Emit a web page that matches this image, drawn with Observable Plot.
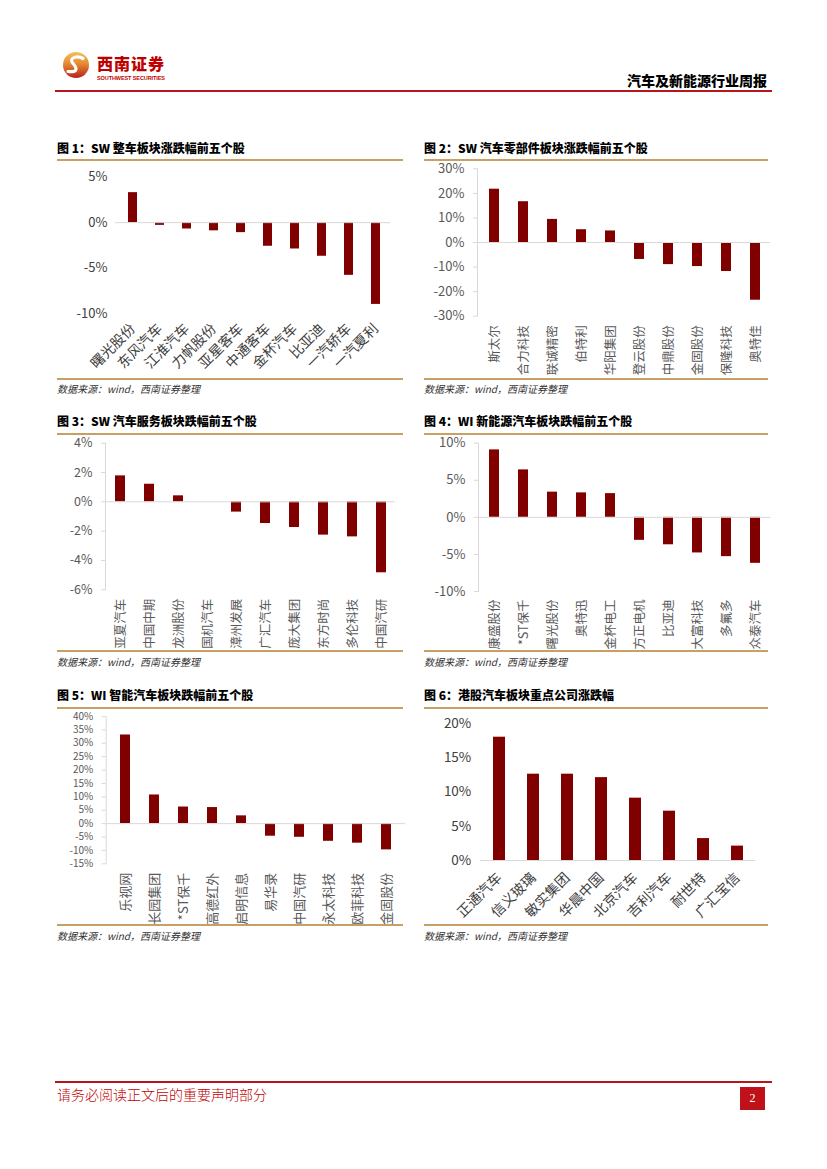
<!DOCTYPE html>
<html><head><meta charset="utf-8">
<script src="https://cdn.jsdelivr.net/npm/d3@7"></script>
<script src="https://cdn.jsdelivr.net/npm/@observablehq/plot@0.6"></script>
<style>
body{margin:0;background:#fff;font-family:"Noto Sans CJK SC",sans-serif;}
#page{position:relative;width:827px;height:1169px;overflow:hidden;background:#fff}
.abs{position:absolute}
.title{font-size:12px;font-weight:900;color:#000;white-space:nowrap;line-height:1}
.src{font-size:10px;font-style:italic;color:#333;white-space:nowrap;line-height:1}
.gold{height:1.6px;background:#C9A063}
</style></head>
<body><div id="page"></div>
<script>
// ---- data ----
const titles = [
  "图 1：SW 整车板块涨跌幅前五个股",
  "图 2：SW 汽车零部件板块涨跌幅前五个股",
  "图 3：SW 汽车服务板块跌幅前五个股",
  "图 4：WI 新能源汽车板块跌幅前五个股",
  "图 5：WI 智能汽车板块跌幅前五个股",
  "图 6：港股汽车板块重点公司涨跌幅"
];
const sourceText = "数据来源：wind，西南证券整理";

const c1Names = ["曙光股份","东风汽车","江淮汽车","力帆股份","亚星客车","中通客车","金杯汽车","比亚迪","一汽轿车","一汽夏利"];
const c1Values = [3.3,-0.3,-0.7,-0.9,-1.1,-2.6,-2.9,-3.7,-5.8,-9.0];
const c1Ticks = [5,0,-5,-10];

const c2Names = ["斯太尔","合力科技","联诚精密","伯特利","华阳集团","登云股份","中鼎股份","金固股份","保隆科技","奥特佳"];
const c2Values = [21.7,16.6,9.4,5.2,4.7,-6.9,-9.0,-9.8,-11.8,-23.5];
const c2Ticks = [30,20,10,0,-10,-20,-30];

const c3Names = ["亚夏汽车","中国中期","龙洲股份","国机汽车","漳州发展","广汇汽车","庞大集团","东方时尚","多伦科技","中国汽研"];
const c3Values = [1.77,1.2,0.41,0,-0.7,-1.48,-1.75,-2.27,-2.39,-4.84];
const c3Ticks = [4,2,0,-2,-4,-6];

const c4Names = ["康盛股份","*ST保千","曙光股份","奥特迅","金杯电工","方正电机","比亚迪","大富科技","多氟多","众泰汽车"];
const c4Values = [9.1,6.4,3.4,3.3,3.2,-3.1,-3.7,-4.8,-5.3,-6.2];
const c4Ticks = [10,5,0,-5,-10];

const c5Names = ["乐视网","长园集团","*ST保千","高德红外","启明信息","易华录","中国汽研","永太科技","欧菲科技","金固股份"];
const c5Values = [33.1,10.7,6.2,6.0,2.9,-4.7,-5.1,-6.6,-7.3,-9.8];
const c5Ticks = [40,35,30,25,20,15,10,5,0,-5,-10,-15];

const c6Names = ["正通汽车","信义玻璃","敏实集团","华晨中国","北京汽车","吉利汽车","耐世特","广汇宝信"];
const c6Values = [18.0,12.6,12.6,12.1,9.1,7.2,3.2,2.1];
const c6Ticks = [20,15,10,5,0];

// ---- page furniture ----
const page = document.getElementById("page");
function add(html){ page.insertAdjacentHTML("beforeend", html); }

add(`<svg class="abs" style="left:62px;top:51px" width="28" height="28" viewBox="0 0 28 28">
 <defs><linearGradient id="lg" x1="0" y1="0" x2="0" y2="1"><stop offset="0" stop-color="#F4C15A"/><stop offset="0.45" stop-color="#E58A33"/><stop offset="1" stop-color="#B8211E"/></linearGradient></defs>
 <circle cx="14" cy="14" r="13" fill="url(#lg)"/>
 <path d="M21 7.5 C 15 4, 6 7, 11 12.5 S 15 21.5, 6 20.5" stroke="#fff" stroke-width="3.2" fill="none" stroke-linecap="round"/>
</svg>`);
add(`<div class="abs" style="left:97px;top:55px;font-size:16px;font-weight:900;color:#C00000;letter-spacing:1px;line-height:1;white-space:nowrap">西南证券</div>`);
add(`<svg class="abs" style="left:97px;top:74px" width="72" height="8"><text x="0" y="6" font-size="5.5" font-weight="bold" fill="#C00000" textLength="68" font-family="Liberation Sans, sans-serif">SOUTHWEST SECURITIES</text></svg>`);
add(`<div class="abs" style="left:627px;top:73px;font-size:14px;font-weight:900;color:#000;line-height:1;white-space:nowrap">汽车及新能源行业周报</div>`);
add(`<div class="abs" style="left:55px;top:90px;width:717px;height:2px;background:#B3161B"></div>`);

add(`<div class="abs" style="left:55px;top:1081px;width:717px;height:2px;background:#B3161B"></div>`);
add(`<div class="abs" style="left:57px;top:1087px;font-size:14px;color:#C00000;line-height:1;white-space:nowrap;font-family:'Noto Sans CJK SC';font-weight:300">请务必阅读正文后的重要声明部分</div>`);
add(`<div class="abs" style="left:740px;top:1087px;width:25px;height:23px;background:#C0101A;color:#fff;font-size:12px;text-align:center;line-height:23px;font-family:'Liberation Serif',serif">2</div>`);

// panel frames (titles, gold lines, source)
const panelX = [[57,403],[424,768]];
const rowTitleTop = [142,415,689];
const rowTopLine = [159,433,707];
const rowBotLine = [378,650,924];
const rowSrcTop = [384,657,931];
for (let r=0;r<3;r++){
  for (let c=0;c<2;c++){
    const [x0,x1] = panelX[c];
    add(`<div class="abs title" style="left:${x0}px;top:${rowTitleTop[r]}px">${titles[r*2+c]}</div>`);
    add(`<div class="abs gold" style="left:${x0}px;top:${rowTopLine[r]}px;width:${x1-x0}px"></div>`);
    add(`<div class="abs gold" style="left:${x0}px;top:${rowBotLine[r]}px;width:${x1-x0}px"></div>`);
    add(`<div class="abs src" style="left:${x0}px;top:${rowSrcTop[r]}px">${sourceText}</div>`);
  }
}

// ---- charts ----
function chart(o){
  const data = o.names.map((n,i)=>({name:n, value:o.values[i]}));
  const marks = [
    Plot.barY(data,{x:"name", y:"value", fill:"#800000"}),
    Plot.ruleY([0],{stroke:"#d9d9d9", strokeWidth:1}),
    Plot.axisY({ticks:o.ticks, tickFormat:d=>d+"%", tickSize:o.axisLine?4:0, stroke:"#d9d9d9",
      tickPadding:o.tickPad, fontSize:o.tickFont, fill:o.color, label:null}),
    Plot.axisX({tickSize:0, tickRotate:o.rotate, fontSize:o.labelFont, fill:o.color,
      tickPadding:o.labelPad, label:null})
  ];
  if (o.axisLine) marks.push(Plot.frame({anchor:"left", stroke:"#d9d9d9"}));
  const svg = Plot.plot({
    width:o.width, height:o.height,
    marginLeft:o.mL, marginRight:o.mR, marginTop:o.mT, marginBottom:o.mB,
    style:{fontFamily:'"Noto Sans CJK SC", sans-serif', background:"transparent", overflow:"visible"},
    x:{domain:o.names, paddingInner:0.66, paddingOuter:0.33, insetLeft:o.inset||0},
    y:{domain:o.domain},
    marks
  });
  svg.style.position = "absolute";
  svg.style.left = o.left+"px";
  svg.style.top = o.top+"px";
  page.appendChild(svg);
}

chart({names:c1Names, values:c1Values, ticks:c1Ticks, domain:[-10,5],
  left:55, top:160, width:347, height:215, mL:60, mR:12, mT:16.7, mB:62, inset:4,
  rotate:-45, tickFont:13, labelFont:14, color:"#404040", tickPad:8, labelPad:13, axisLine:false});
chart({names:c2Names, values:c2Values, ticks:c2Ticks, domain:[-30,30],
  left:420, top:160, width:352, height:215, mL:57, mR:2, mT:8.3, mB:59.3, inset:1.5,
  rotate:-90, tickFont:13, labelFont:12.5, color:"#595959", tickPad:9, labelPad:9, axisLine:true});
chart({names:c3Names, values:c3Values, ticks:c3Ticks, domain:[-6,4],
  left:55, top:435, width:347, height:215, mL:50, mR:7, mT:7.7, mB:60.7,
  rotate:-90, tickFont:12.5, labelFont:12.5, color:"#595959", tickPad:9, labelPad:9, axisLine:true});
chart({names:c4Names, values:c4Values, ticks:c4Ticks, domain:[-10,10],
  left:420, top:435, width:352, height:215, mL:58, mR:1.4, mT:7.7, mB:59,
  rotate:-90, tickFont:13, labelFont:12.5, color:"#595959", tickPad:9, labelPad:8, axisLine:true});
chart({names:c5Names, values:c5Values, ticks:c5Ticks, domain:[-15,40],
  left:55, top:710, width:352, height:215, mL:50.7, mR:2, mT:6, mB:61.7,
  rotate:-90, tickFont:10, labelFont:13, color:"#595959", tickPad:9, labelPad:9, axisLine:true});
chart({names:c6Names, values:c6Values, ticks:c6Ticks, domain:[0,20],
  left:420, top:710, width:352, height:215, mL:59.8, mR:16.8, mT:13, mB:65,
  rotate:-45, tickFont:13.5, labelFont:14, color:"#404040", tickPad:9, labelPad:15, axisLine:false});
</script>
</body></html>
